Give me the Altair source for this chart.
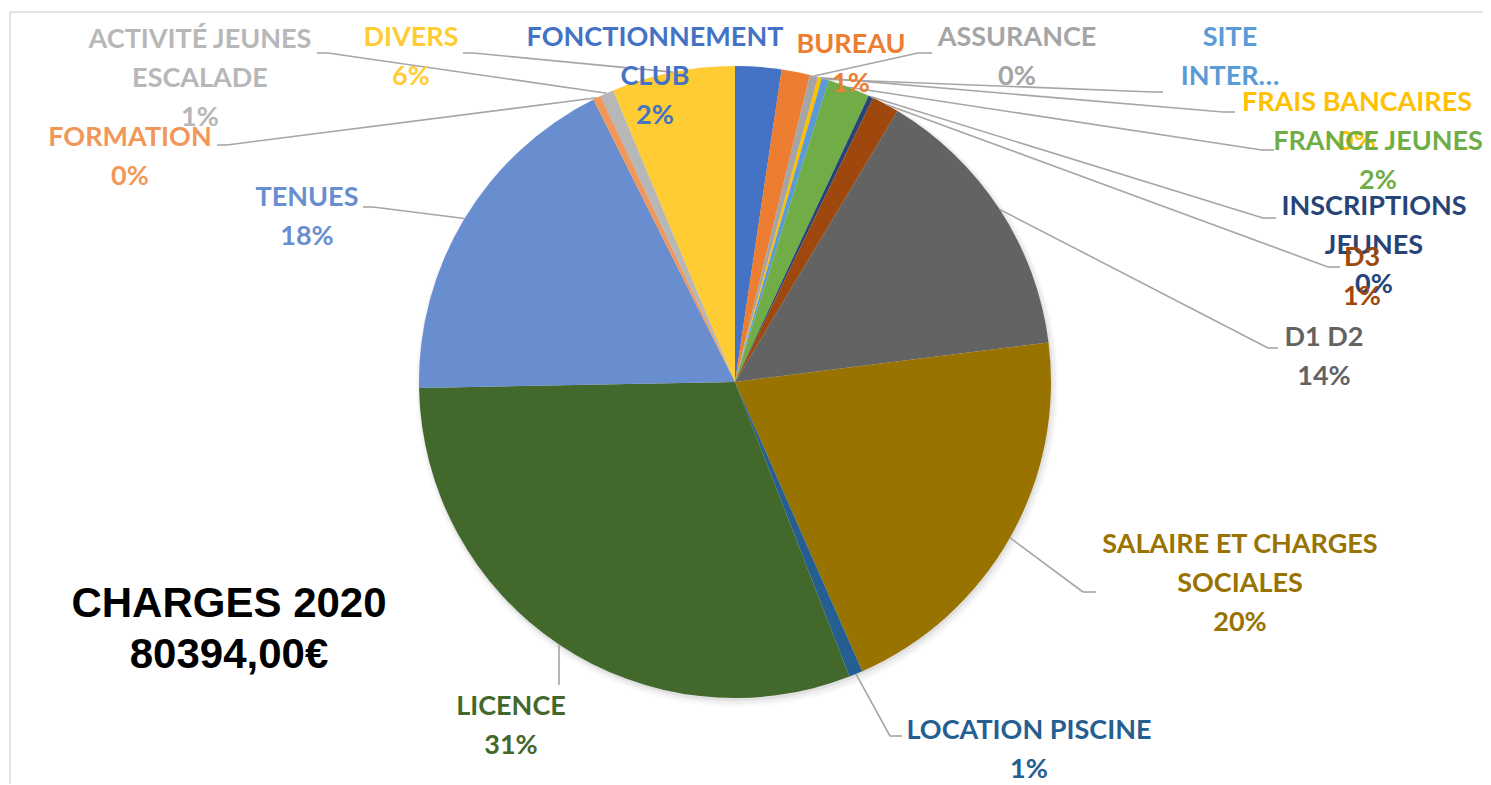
import altair as alt
import pandas as pd

# ---------------- data ----------------
CATEGORIES = [
    "FONCTIONNEMENT CLUB", "BUREAU", "ASSURANCE", "FRAIS BANCAIRES", "SITE INTERNET",
    "FRANCE JEUNES", "INSCRIPTIONS JEUNES", "D3", "D1 D2", "SALAIRE ET CHARGES SOCIALES",
    "LOCATION PISCINE", "LICENCE", "TENUES", "FORMATION", "ACTIVITÉ JEUNES ESCALADE", "DIVERS",
]
VALUES = [1897, 1166, 338, 161, 297, 1728, 201, 1126, 11577, 16400, 563, 24601, 14391, 322, 563, 5063]
COLORS = [
    "#4472C4", "#ED7D31", "#A5A5A5", "#FFC000", "#5B9BD5", "#70AD47", "#264478", "#9E480E",
    "#636363", "#997300", "#255E91", "#43682B", "#698ED0", "#F1975A", "#B7B7B7", "#FFCD33",
]
LABEL_LINES = [
    ["FONCTIONNEMENT", "CLUB"], ["BUREAU"], ["ASSURANCE"], ["FRAIS BANCAIRES"], ["SITE", "INTER…"],
    ["FRANCE JEUNES"], ["INSCRIPTIONS", "JEUNES"], ["D3"], ["D1 D2"], ["SALAIRE ET CHARGES", "SOCIALES"],
    ["LOCATION PISCINE"], ["LICENCE"], ["TENUES"], ["FORMATION"], ["ACTIVITÉ JEUNES", "ESCALADE"], ["DIVERS"],
]
SHOW_PCT = [True, True, True, True, False, True, True, True, True, True, True, True, True, True, True, True]
TITLE_LINES = ["CHARGES 2020", "80394,00€"]

# ---------------- layout (page pixels) ----------------
OFF = 8
W, H = 1475, 776
CX, CY, R = 735 - OFF, 382 - OFF, 316
LINE_H = 39
FONT = "Lato"
# label block: centre x, centre y of first line
LABEL_POS = {
    "FONCTIONNEMENT CLUB": (655, 38), "BUREAU": (851, 45), "ASSURANCE": (1017, 38),
    "FRAIS BANCAIRES": (1357, 103), "SITE INTERNET": (1230, 38), "FRANCE JEUNES": (1378, 142),
    "INSCRIPTIONS JEUNES": (1374, 207), "D3": (1362, 258), "D1 D2": (1324, 338),
    "SALAIRE ET CHARGES SOCIALES": (1240, 545), "LOCATION PISCINE": (1029, 731),
    "LICENCE": (511, 707), "TENUES": (307, 198), "FORMATION": (130, 138),
    "ACTIVITÉ JEUNES ESCALADE": (200, 40), "DIVERS": (411, 38),
}
# leader lines: elbow point and end point
LEADERS = {
    "ASSURANCE": ((918, 53), (932, 53)),
    "SITE INTERNET": ((1153, 92), (1163, 92)),
    "FRAIS BANCAIRES": ((1223, 112), (1235, 112)),
    "FRANCE JEUNES": ((1262, 150), (1274, 150)),
    "INSCRIPTIONS JEUNES": ((1263, 218), (1276, 218)),
    "D3": ((1328, 267), (1340, 267)),
    "D1 D2": ((1268, 348), (1278, 348)),
    "SALAIRE ET CHARGES SOCIALES": ((1083, 592), (1096, 592)),
    "LOCATION PISCINE": ((890, 736), (902, 736)),
    "LICENCE": ((559, 685), (559, 685)),
    "TENUES": ((373, 207), (363, 207)),
    "FORMATION": ((227, 145), (217, 145)),
    "ACTIVITÉ JEUNES ESCALADE": ((328, 53), (317, 53)),
    "DIVERS": ((473, 53), (463, 53)),
}

total = sum(VALUES)
rows = []
for i, (c, v) in enumerate(zip(CATEGORIES, VALUES)):
    ld = LEADERS.get(c)
    rows.append({
        "cat": c, "value": v, "idx": i,
        "elx": ld[0][0] - OFF if ld else None, "ely": ld[0][1] - OFF if ld else None,
        "enx": ld[1][0] - OFF if ld else None, "eny": ld[1][1] - OFF if ld else None,
    })
df = pd.DataFrame(rows)

lab_rows = []
for i, c in enumerate(CATEGORIES):
    lines = list(LABEL_LINES[i])
    if SHOW_PCT[i]:
        lines.append(f"{int(VALUES[i] / total * 100 + 0.5)}%")
    x0, y0 = LABEL_POS[c]
    for k, t in enumerate(lines):
        lab_rows.append({"cat": c, "idx": i, "text": t, "lx": x0 - OFF, "ly": y0 - OFF + k * LINE_H})
labels = pd.DataFrame(lab_rows)

color_scale = alt.Scale(domain=CATEGORIES, range=COLORS)

one = pd.DataFrame({"a": [0]})
shadows = [
    alt.Chart(one).mark_arc(radius=R + rr, x=CX + dx, y=CY + dy, color="#000000", opacity=op).encode(
        theta=alt.value(0), theta2=alt.value(6.2832)
    )
    for rr, dx, dy, op in [(5, 2, 4, 0.025), (3, 2, 3, 0.04), (1, 1, 2, 0.06)]
]

pie = alt.Chart(df).mark_arc(radius=R, x=CX, y=CY, stroke=None).encode(
    theta=alt.Theta("value:Q", stack=True),
    color=alt.Color("cat:N", scale=color_scale, legend=None),
    order=alt.Order("idx:Q"),
)

lead_base = alt.Chart(df).transform_joinaggregate(
    total="sum(value)"
).transform_window(
    cum="sum(value)", sort=[alt.SortField("idx")], frame=[None, 0]
).transform_calculate(
    mid="(datum.cum - datum.value / 2) / datum.total * 2 * PI",
    ex=f"{CX} + {R} * sin(datum.mid)",
    ey=f"{CY} - {R} * cos(datum.mid)",
).transform_filter("isValid(datum.elx)")

lead1 = lead_base.mark_rule(color="#A6A6A6", strokeWidth=1.6).encode(
    x=alt.X("ex:Q", scale=None, axis=None), y=alt.Y("ey:Q", scale=None, axis=None),
    x2="elx:Q", y2="ely:Q",
)
lead2 = lead_base.mark_rule(color="#A6A6A6", strokeWidth=1.6).encode(
    x=alt.X("elx:Q", scale=None, axis=None), y=alt.Y("ely:Q", scale=None, axis=None),
    x2="enx:Q", y2="eny:Q",
)

text = alt.Chart(labels).mark_text(
    font=FONT, fontWeight="bold", fontSize=27, align="center", baseline="middle"
).encode(
    x=alt.X("lx:Q", scale=None, axis=None), y=alt.Y("ly:Q", scale=None, axis=None),
    text="text:N",
    color=alt.Color("cat:N", scale=color_scale, legend=None),
    order=alt.Order("idx:Q"),
)

title_df = pd.DataFrame({"t": TITLE_LINES, "k": list(range(len(TITLE_LINES)))})
title = alt.Chart(title_df).transform_calculate(
    tx=str(229 - OFF), ty=f"{604 - OFF} + datum.k * 51"
).mark_text(
    font="Liberation Sans", fontWeight="bold", fontSize=42, align="center", baseline="middle", color="black"
).encode(
    x=alt.X("tx:Q", scale=None, axis=None), y=alt.Y("ty:Q", scale=None, axis=None), text="t:N"
)

border_top = alt.Chart(one).mark_rule(color="#D9D9D9", strokeWidth=1.5).encode(
    x=alt.value(2), x2=alt.value(W), y=alt.value(4), y2=alt.value(4)
)
border_left = alt.Chart(one).mark_rule(color="#D9D9D9", strokeWidth=1.5).encode(
    x=alt.value(2), x2=alt.value(2), y=alt.value(4), y2=alt.value(H)
)

chart = alt.layer(border_top, border_left, *shadows, pie, lead1, lead2, text, title).properties(
    width=W, height=H, autosize=alt.AutoSizeParams(type="none"), padding=0,
    background="white",
).configure_view(stroke=None)

chart.save("out.html", embed_options={"renderer": "svg", "actions": False})
